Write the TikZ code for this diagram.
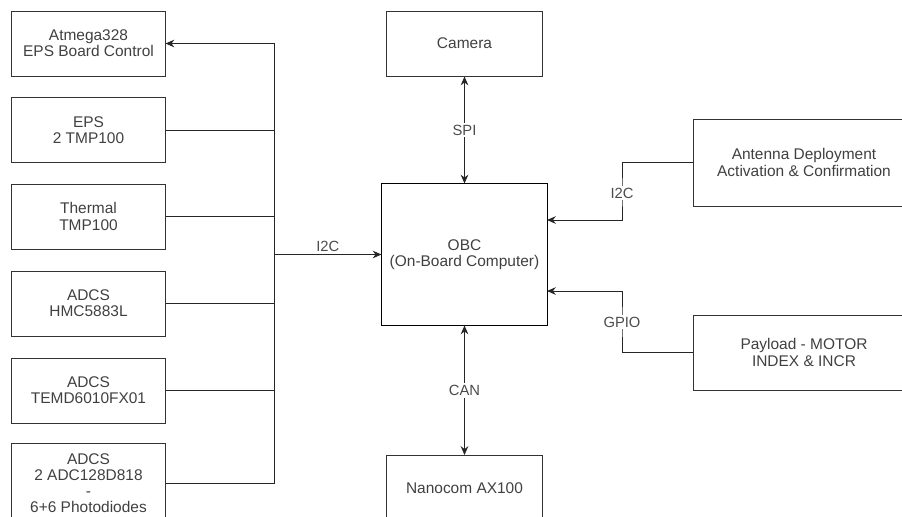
\documentclass[tikz,border=0pt]{standalone}
\usepackage{fontspec}
\setmainfont{Liberation Sans}
\usetikzlibrary{arrows.meta}

\begin{document}
\begin{tikzpicture}[
  x=0.025cm, y=-0.025cm,
  unit/.style={rectangle, draw=black!80, line width=0.7pt, minimum width=3.825cm, minimum height=1.625cm, font=\fontsize{11}{11.5}\selectfont, text=black!75, align=center, inner sep=1pt},
  obcbox/.style={unit, draw=black, minimum width=4.125cm, minimum height=3.525cm},
  sidebox/.style={unit, minimum width=5.5cm},
  wire/.style={draw=black!85, line width=0.7pt},
  arr/.style={wire, -{Stealth[length=2.2mm, width=1.9mm]}},
  biarr/.style={wire, {Stealth[length=2.2mm, width=1.9mm]}-{Stealth[length=2.2mm, width=1.9mm]}},
  lbl/.style={fill=white, inner sep=1.5pt, font=\fontsize{10.5}{11}\selectfont, text=black!70}
]
\useasboundingbox (0,0) rectangle (902,516);

% sensors on the I2C bus
\node[unit] (b1) at (88.5, 43.5)  {Atmega328\\EPS Board Control};
\node[unit] (b2) at (88.5, 130)   {EPS\\2 TMP100};
\node[unit] (b3) at (88.5, 216.5) {Thermal\\TMP100};
\node[unit] (b4) at (88.5, 303.5) {ADCS\\HMC5883L};
\node[unit] (b5) at (88.5, 390.5) {ADCS\\TEMD6010FX01};
\node[unit, minimum height=2cm] (b6) at (88.5, 483) {ADCS\\2 ADC128D818\\-\\6+6 Photodiodes};

\node[unit, minimum width=3.875cm] (cam) at (464.5, 43.5) {Camera};
\node[obcbox] (obc) at (464.5, 254.5) {OBC\\(On-Board Computer)};
\node[unit, minimum width=3.875cm] (nano) at (464.5, 488) {Nanocom AX100};

\node[sidebox, minimum height=2.175cm] (ant) at (804, 162.5) {Antenna Deployment\\Activation \& Confirmation};
\node[sidebox, minimum height=1.875cm] (pay) at (804, 352.5) {Payload - MOTOR\\INDEX \& INCR};

\coordinate (bus) at (274, 254.5);
\coordinate (i2cbend) at (622, 193);
\coordinate (gpiobend) at (622, 322);
\coordinate (i2cin) at (547, 220);
\coordinate (gpioin) at (547, 291);

% I2C bus
\draw[arr] (b6.east) -- (b6.east -| bus) -- (b1.east -| bus) -- (b1.east);
\draw[wire] (b2.east) -- (b2.east -| bus);
\draw[wire] (b3.east) -- (b3.east -| bus);
\draw[wire] (b4.east) -- (b4.east -| bus);
\draw[wire] (b5.east) -- (b5.east -| bus);
\draw[arr] (bus) -- node[above, font=\fontsize{10.5}{11}\selectfont, text=black!70, inner sep=2pt] {I2C} (obc.west);

\draw[biarr] (cam.south) -- node[lbl] {SPI} (obc.north);
\draw[biarr] (obc.south) -- node[lbl] {CAN} (nano.north);

\draw[arr] (ant.west) -| (i2cbend) |- (i2cin);
\draw[arr] (pay.west) -| (gpiobend) |- (gpioin);
\node[lbl] at (i2cbend) {I2C};
\node[lbl] at (gpiobend) {GPIO};

\end{tikzpicture}
\end{document}
